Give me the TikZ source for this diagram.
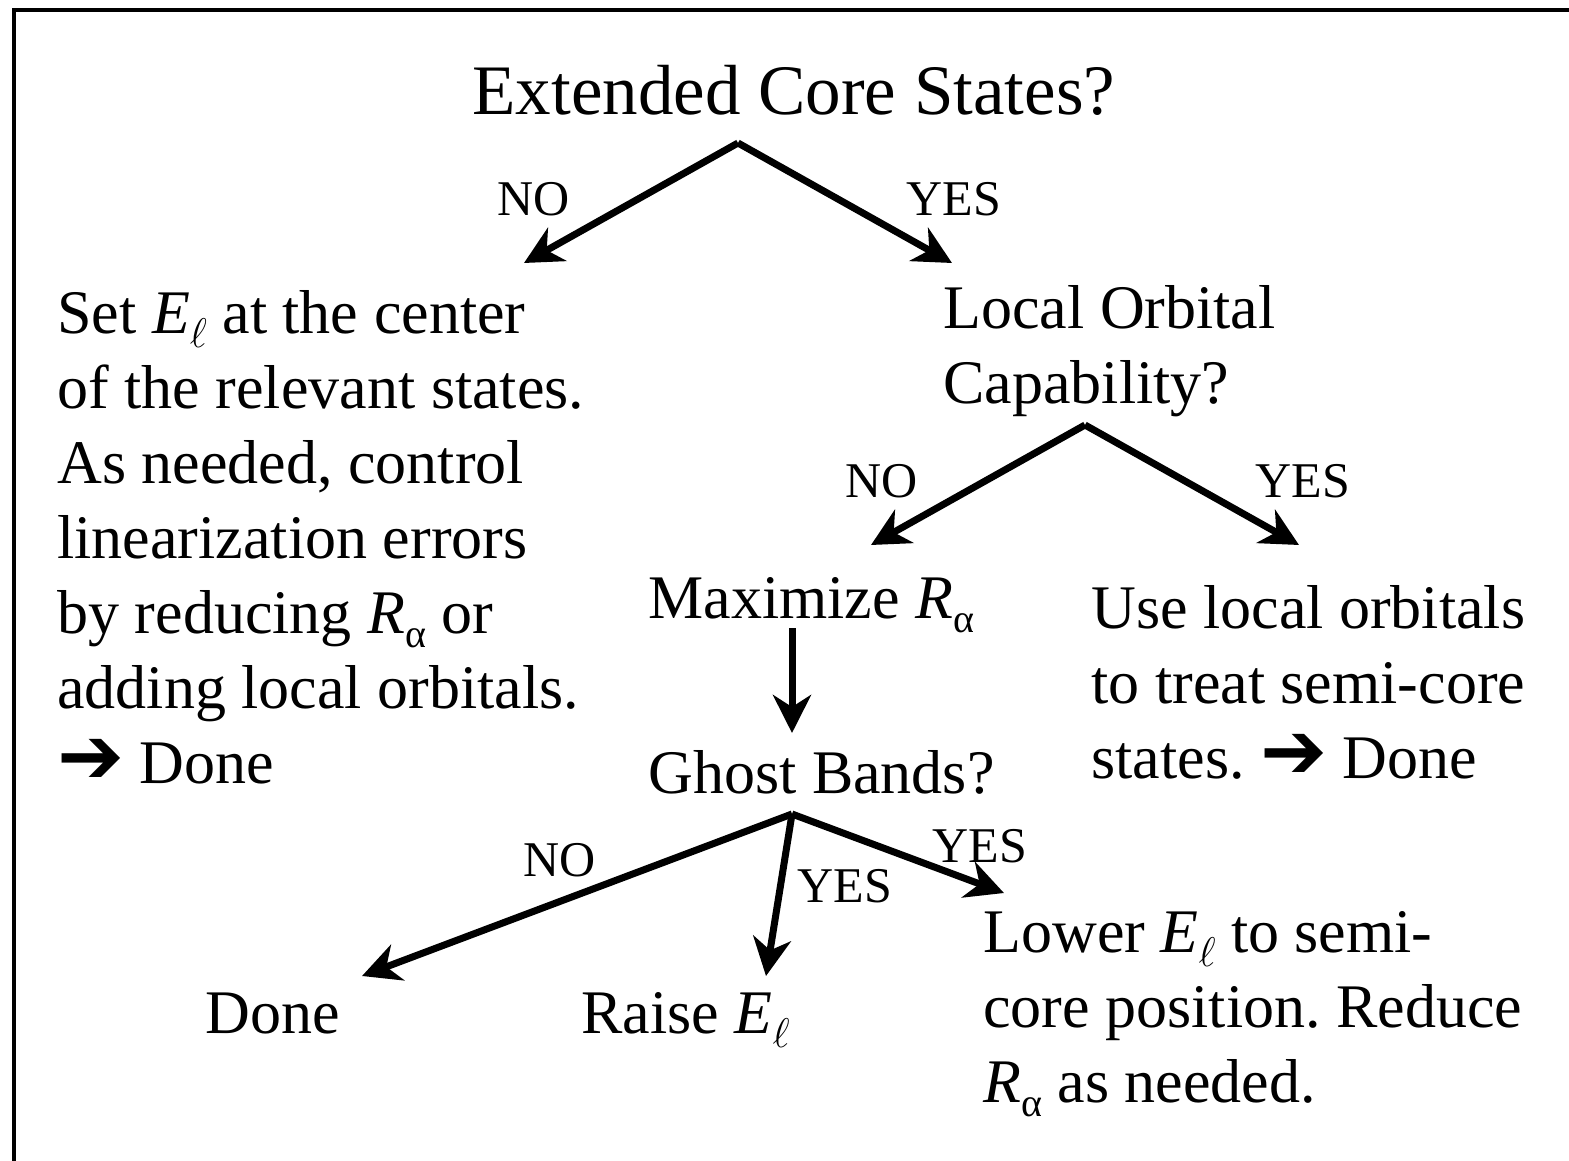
\documentclass[tikz,border=0pt]{standalone}
\usepackage{fontspec}
\setmainfont{Liberation Serif}
\newfontfamily\dingfont{DejaVu Sans}
\usetikzlibrary{positioning, arrows.meta}
\frenchspacing
\newcommand{\sbs}[1]{\raisebox{-0.24em}{\fontsize{20}{20}\selectfont #1}}
\newcommand{\Eell}{\textit{E}\sbs{$\ell$}}
\newcommand{\Ralpha}{\textit{R}\sbs{α}}
\newcommand{\doneto}{{\dingfont\fontsize{40}{40}\selectfont ➔}}

\begin{document}
\begin{tikzpicture}[
      x=0.5pt, y=-0.5pt,
      hdr/.style={font=\fontsize{35.5}{42}\selectfont, inner sep=0pt, anchor=base west},
      txt/.style={font=\fontsize{31}{37.5}\selectfont, inner sep=0pt,
                  anchor=base west, align=left},
      lbl/.style={font=\fontsize{25}{30}\selectfont, inner sep=0pt, anchor=base west},
      arr/.style={line width=3.5pt, -{Stealth[length=19pt, width=19pt, inset=6pt]}},
    ]
    \useasboundingbox (0,0) rectangle (1569,1161);
    \draw[line width=2pt] (13.5,1161) -- (13.5,10) -- (1569,10);

    % questions and answers (multi-line nodes sit on their last baseline)
    \node[hdr] (core) at (472,115) {Extended Core States?};
    \node[txt] (setel) at (57,783)
      {Set \Eell{} at the center\\
       of the relevant states.\\
       As needed, control\\
       linearization errors\\
       by reducing \Ralpha{} or\\
       adding local orbitals.\\
       \doneto{} Done};
    \node[txt] (locorb) at (943,403) {Local Orbital\\Capability?};
    \node[txt] (maxr) at (648,618) {Maximize \Ralpha};
    \node[txt] (uselo) at (1091,778)
      {Use local orbitals\\
       to treat semi-core\\
       states. \doneto{} Done};
    \node[txt] (ghost) at (648,793) {Ghost Bands?};
    \node[txt] (done) at (205,1033) {Done};
    \node[txt] (raise) at (581,1033) {Raise \Eell};
    \node[txt] (lower) at (983,1102)
      {Lower \Eell{} to semi-\\
       core position. Reduce\\
       \Ralpha{} as needed.};

    % split points and arrow ends
    \coordinate (coreSplit) at (738,143);
    \coordinate (coreNo)    at (524,263);
    \coordinate (coreYes)   at (952,263);
    \coordinate (locSplit)  at (1085,425);
    \coordinate (locNo)     at (871,545);
    \coordinate (locYes)    at (1299,545);
    \coordinate (maxrOut)   at (792,628);
    \coordinate (ghostIn)   at (792,733);
    \coordinate (ghostSplit) at (792,814);
    \coordinate (ghostNo)   at (362,976);
    \coordinate (ghostMid)  at (766,976);
    \coordinate (ghostYes)  at (1004,893);

    \draw[arr] (coreSplit) -- (coreNo);
    \draw[arr] (coreSplit) -- (coreYes);
    \draw[arr] (locSplit) -- (locNo);
    \draw[arr] (locSplit) -- (locYes);
    \draw[arr] (maxrOut) -- (ghostIn);
    \draw[arr] (ghostSplit) -- (ghostNo);
    \draw[arr] (ghostSplit) -- (ghostMid);
    \draw[arr] (ghostSplit) -- (ghostYes);

    % branch labels
    \node[lbl] (coreNoL)   at (497,215) {NO};
    \node[lbl] (coreYesL)  at (906,215) {YES};
    \node[lbl] (locNoL)    at (845,497) {NO};
    \node[lbl] (locYesL)   at (1255,497) {YES};
    \node[lbl] (ghostNoL)  at (523,876) {NO};
    \node[lbl] (ghostMidL) at (797,902) {YES};
    \node[lbl] (ghostYesL) at (932,862) {YES};
  \end{tikzpicture}
\end{document}
